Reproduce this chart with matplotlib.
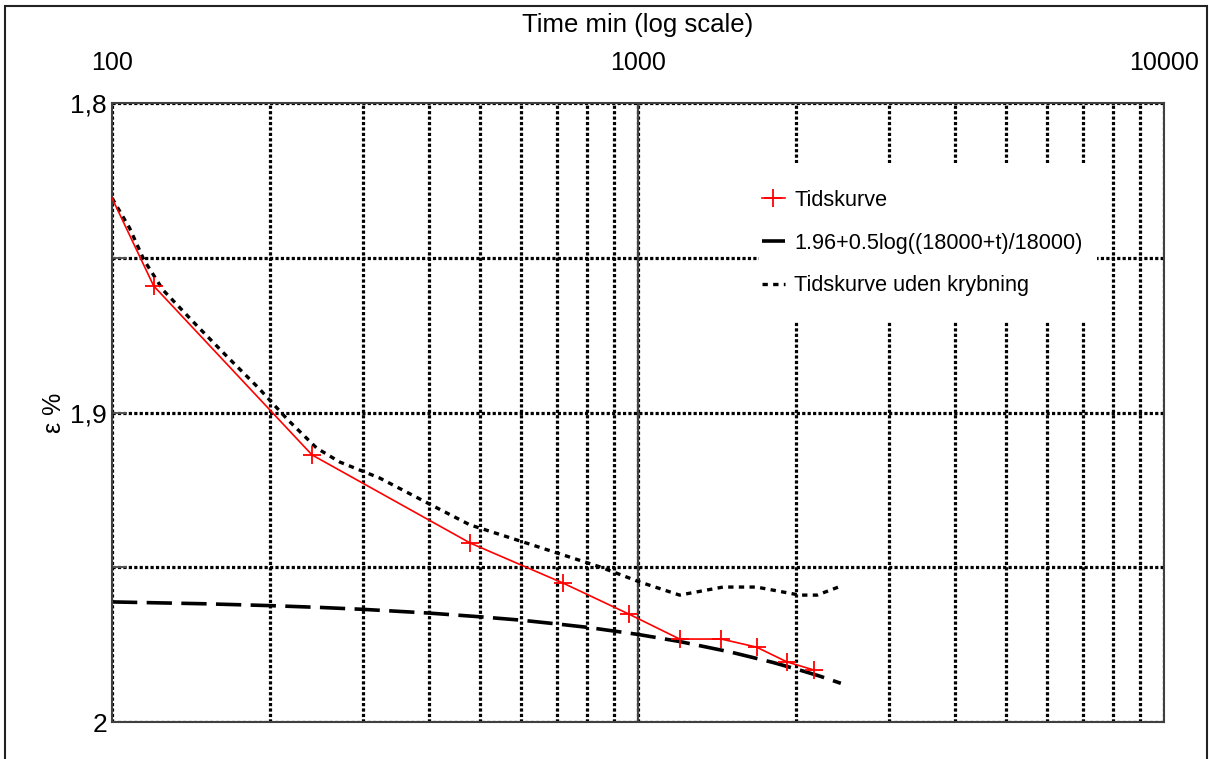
import matplotlib
matplotlib.use("Agg")
import matplotlib.pyplot as plt
from matplotlib.patches import Rectangle
from matplotlib.ticker import LogLocator, NullFormatter, FixedLocator

plt.rcParams['font.family'] = ['Liberation Sans', 'DejaVu Sans']

# Tidskurve (measured points)
t_meas = [100, 120, 240, 480, 720, 960, 1200, 1440, 1680, 1920, 2160]
eps_meas = [1.8307, 1.8591, 1.9137, 1.9422, 1.9551, 1.9651, 1.9732, 1.9732,
            1.9758, 1.9806, 1.9832]

# 1.96+0.5log((18000+t)/18000), values
t_fit = [100, 150, 200, 250, 300, 400, 500, 600, 700, 800, 1000, 1200, 1500,
         1800, 2000, 2200, 2430]
eps_fit = [1.9612, 1.9618, 1.9624, 1.9630, 1.9636, 1.9648, 1.9660, 1.9671,
           1.9683, 1.9694, 1.9717, 1.9740, 1.9774, 1.9807, 1.9829, 1.9850,
           1.9875]

# Tidskurve uden krybning
t_nc = [100, 108, 115, 125, 144, 165, 190, 216, 245, 271, 323, 408, 479, 604,
        702, 847, 1009, 1200, 1450, 1680, 2030, 2190, 2430]
eps_nc = [1.8307, 1.8404, 1.8507, 1.8604, 1.8714, 1.8817, 1.8921, 1.9024,
          1.9115, 1.9160, 1.9212, 1.9302, 1.9363, 1.9418, 1.9454, 1.9499,
          1.9548, 1.9590, 1.9564, 1.9564, 1.9590, 1.9590, 1.9561]

x_ticks = [100, 1000, 10000]
x_labels = ['100', '1000', '10000']
y_ticks = [1.8, 1.9, 2.0]
y_labels = ['1,8', '1,9', '2']

W, H = 1209, 759
fig = plt.figure(figsize=(W / 100, H / 100), dpi=100)
ax = fig.add_axes([112 / W, (H - 722) / H, (1164 - 112) / W, (722 - 103) / H])

ax.set_xscale('log')
ax.set_xlim(100, 10000)
ax.set_ylim(2.0, 1.8)

# grid
ax.set_axisbelow(True)
ax.xaxis.set_minor_locator(LogLocator(base=10, subs=range(2, 10)))
ax.xaxis.set_minor_formatter(NullFormatter())
ax.yaxis.set_minor_locator(FixedLocator([1.85, 1.95]))
grid_kw = dict(color='black', linewidth=2.3, linestyle=(0, (1, 0.7)))
ax.grid(True, which='both', axis='both', **grid_kw)
ax.axvline(1000, color='#444444', linewidth=1.6, zorder=0.8)

# white box behind the legend
ax.add_patch(Rectangle(((759 - 112) / 1052, (722 - 322) / 619),
                       (1097 - 759) / 1052, (322 - 163) / 619,
                       transform=ax.transAxes, facecolor='white',
                       edgecolor='none', zorder=1))

ax.plot(t_meas, eps_meas, color='#ff0000', linewidth=1.2, marker='+',
        markersize=13, markeredgewidth=1.3, markevery=range(1, len(t_meas)),
        label='Tidskurve', zorder=3)
ax.plot(t_fit, eps_fit, color='black', linewidth=2.6,
        linestyle=(0, (7, 2.6)), label='1.96+0.5log((18000+t)/18000)',
        zorder=2)
ax.plot(t_nc, eps_nc, color='black', linewidth=2.4,
        linestyle=(0, (1.6, 1.6)), label='Tidskurve uden krybning', zorder=2)

# axes / ticks
ax.xaxis.tick_top()
ax.set_xticks(x_ticks, labels=x_labels)
ax.tick_params(axis='x', which='both', length=0, pad=20, labelsize=18)
ax.set_yticks(y_ticks, labels=y_labels)
ax.tick_params(axis='y', which='both', direction='in', length=11,
               width=1.4, color='#555555', pad=3.6, labelsize=19)
for s in ax.spines.values():
    s.set_color('#404040')
    s.set_linewidth(1.5)

ax.set_ylabel('ε %', fontsize=18, labelpad=3)
fig.text(0.5 * (112 + 1164) / W, 1 - 25 / H, 'Time min (log scale)',
         ha='center', va='center', fontsize=18.5)

leg = ax.legend(loc='upper left', bbox_to_anchor=((762 - 112) / 1052, 0.860),
                frameon=False, fontsize=15.6, handlelength=1.05,
                handletextpad=0.45, labelspacing=1.01, borderpad=0,
                borderaxespad=0)

# figure border
fig.add_artist(Rectangle((5 / W, -0.02), (1207 - 5) / W, 1.02 - 6 / H,
                         transform=fig.transFigure, fill=False,
                         edgecolor='#222222', linewidth=1.5))

plt.savefig('out.png', dpi=100)
